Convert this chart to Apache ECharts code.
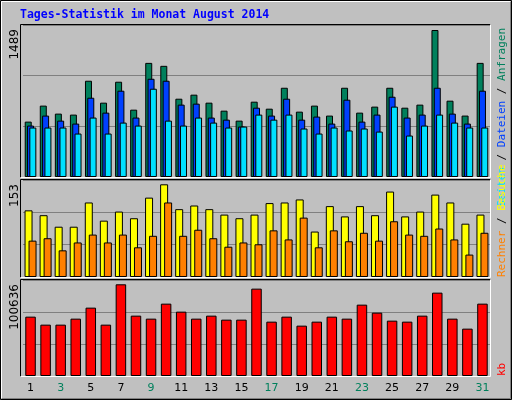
<!DOCTYPE html>
<html><head><meta charset="utf-8">
<script src="https://cdn.jsdelivr.net/npm/echarts@6/dist/echarts.min.js"></script>
<style>html,body{margin:0;padding:0;background:#c0c0c0}#c{width:512px;height:400px}</style>
</head><body><div id="c"></div>
<script>
const days = ['1','2','3','4','5','6','7','8','9','10','11','12','13','14','15','16','17','18','19','20','21','22','23','24','25','26','27','28','29','30','31'];
const weekend = ['2','3','9','10','16','17','23','24','30','31'];
const anfragen = [561,723,642,632,975,753,965,682,1156,1126,793,834,753,672,571,763,692,904,662,723,622,904,652,713,904,702,733,1489,773,622,1156];
const dateien  = [521,622,571,541,803,652,874,602,995,975,733,743,602,581,511,702,622,793,581,612,541,783,561,632,813,602,632,904,642,541,874];
const seiten   = [501,501,501,440,602,440,551,521,894,571,521,602,551,501,511,632,581,632,491,440,501,471,491,460,713,420,521,632,551,501,501];
const besuche  = [110,102,83,83,123,93,108,97,131,153,112,118,112,103,97,103,122,123,128,75,117,100,117,102,141,100,108,136,123,88,103];
const rechner  = [60,64,44,57,70,57,70,49,68,123,68,78,64,50,57,54,77,62,98,49,77,59,73,60,92,70,68,80,62,37,73];
const kb       = [65133,56350,56350,62935,75010,56350,100636,66228,62935,79400,70620,62935,66228,61837,61837,95866,59642,65133,55251,59642,65133,62935,78302,69521,60740,59642,66228,91475,62935,51958,79400];
const maxLabels = ['1489','153','100636'];

const tops = [25,180,280], heights = [152,97,96];
const maxes = [1489*152/147, 153*97/92.7, 100636*96/91.7];
const grids = tops.map((t,i)=>({left:23,right:22,top:t,height:heights[i],show:false}));
const xAxes = tops.map((t,i)=>({type:'category',data:days,gridIndex:i,
  axisLine:{show:false},axisTick:{show:false},
  axisLabel:{show:i===2,margin:7,fontFamily:'DejaVu Sans',fontSize:11,
    color:(v)=>weekend.includes(v)?'#00805c':'#000'}}));
const yAxes = maxes.map((m,i)=>({type:'value',gridIndex:i,min:0,max:m,interval:m/3,
  axisLabel:{show:false},axisLine:{show:false},axisTick:{show:false},
  splitLine:{show:true,lineStyle:{color:'#808080',width:1}}}));
const bs = (name,data,color,g,w,gap)=>({type:'bar',name,data,xAxisIndex:g,yAxisIndex:g,barWidth:w,barGap:gap,
  itemStyle:{color,borderColor:'#000',borderWidth:1},silent:true,animation:false});

const rot = Math.PI/2;
const txt = (x,y,text,align,rich,fill)=>({type:'text',x,y,rotation:rot,z:10,
  style:{text,align,verticalAlign:'middle',fontFamily:'DejaVu Sans Mono',fontSize:11,fill:fill||'#000',rich}});
const richTop = {s:{fill:'#00e0ff',fontFamily:'DejaVu Sans Mono',fontSize:11},d:{fill:'#0040ff',fontFamily:'DejaVu Sans Mono',fontSize:11},
  a:{fill:'#00805c',fontFamily:'DejaVu Sans Mono',fontSize:11},k:{fill:'#000',fontFamily:'DejaVu Sans Mono',fontSize:11},
  r:{fill:'#ff8000',fontFamily:'DejaVu Sans Mono',fontSize:11},b:{fill:'#ffff00',fontFamily:'DejaVu Sans Mono',fontSize:11}};

const graphics = [
  {type:'rect',shape:{x:0.5,y:0.5,width:511,height:399},style:{fill:'#c0c0c0',stroke:'#000',lineWidth:1},z:-10},
  {type:'polyline',shape:{points:[[1.5,398],[1.5,1.5],[510,1.5]]},style:{stroke:'#fff',lineWidth:1,fill:null},z:-9},
  {type:'polyline',shape:{points:[[2,398.5],[510.5,398.5],[510.5,2]]},style:{stroke:'#808080',lineWidth:1,fill:null},z:-9},
  {type:'text',x:20,y:15,z:10,style:{text:'Tages-Statistik im Monat August 2014',fontFamily:'DejaVu Sans Mono',fontWeight:'bold',fontSize:11.5,fill:'#0000ff',verticalAlign:'middle'}},
  txt(502,28,'{s|Seiten} {k|/} {d|Dateien} {k|/} {a|Anfragen}','right',richTop),
  txt(502,277,'{r|Rechner} {k|/} {b|Besuche}','left',richTop),
  txt(502,376,'kb','left',null,'#ff0000')
];
tops.forEach((t,i)=>{
  graphics.push({type:'polyline',shape:{points:[[20.5,t+heights[i]+0.5],[20.5,t-0.5],[490.5,t-0.5]]},style:{stroke:'#000',fill:null,lineWidth:1},z:5});
  graphics.push({type:'polyline',shape:{points:[[20.5,t+heights[i]+0.5],[490.5,t+heights[i]+0.5],[490.5,t-0.5]]},style:{stroke:'#fff',fill:null,lineWidth:1},z:5});
  graphics.push(txt(15,t+4,maxLabels[i],'right',null,'#000'));
});
graphics.forEach(g=>{ if(g.type==='text' && g.rotation && g.style.text===undefined){} });
graphics.filter(g=>g.rotation && maxLabels.includes(g.style.text)).forEach(g=>{g.style.fontFamily='DejaVu Sans';g.style.fontSize=12;});

const chart = echarts.init(document.getElementById('c'));
chart.setOption({
  animation:false,backgroundColor:'#c0c0c0',
  grid:grids,xAxis:xAxes,yAxis:yAxes,graphic:graphics,
  series:[
    bs('Anfragen',anfragen,'#00805c',0,7,'-67%'),
    bs('Dateien',dateien,'#0040ff',0,7,'-67%'),
    bs('Seiten',seiten,'#00e0ff',0,7,'-67%'),
    bs('Besuche',besuche,'#ffff00',1,8,'-50%'),
    bs('Rechner',rechner,'#ff8000',1,8,'-50%'),
    bs('kb',kb,'#ff0000',2,10.5,'0%')
  ]
});
</script></body></html>
